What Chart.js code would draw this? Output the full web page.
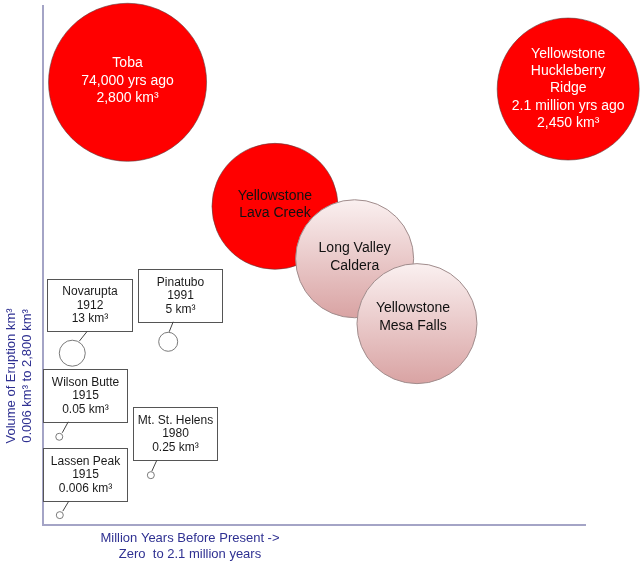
<!DOCTYPE html>
<html><head><meta charset="utf-8">
<script src="https://cdn.jsdelivr.net/npm/chart.js@4/dist/chart.umd.min.js"></script>
<style>html,body{margin:0;padding:0;background:#fff;} canvas{display:block;}</style>
</head><body>
<canvas id="c" width="640" height="569"></canvas>
<script>
// ---- data (arbitrary 0-100 plot units) ----
const volcanoNames = ['Toba','Yellowstone\nHuckleberry\nRidge','Yellowstone\nLava Creek','Long Valley\nCaldera','Yellowstone\nMesa Falls','Novarupta','Pinatubo','Wilson Butte','Mt. St. Helens','Lassen Peak'];
const whenLabels   = ['74,000 yrs ago','2.1 million yrs ago','','','','1912','1991','1915','1980','1915'];
const volumeLabels = ['2,800 km³','2,450 km³','','','','13 km³','5 km³','0.05 km³','0.25 km³','0.006 km³'];
const xValues      = [15.6, 96.9, 42.8, 57.5, 69.0, 5.4, 23.1, 3.0, 19.9, 3.1];
const yValues      = [85.3, 84.0, 61.4, 51.3, 38.8, 33.1, 35.3, 17.0, 9.6, 1.9];
const bubbleSizes  = [79, 71, 63, 59, 60, 13, 9.5, 3.5, 3.5, 3.5];
const bubbleKinds  = ['major','major','red','pink','pink','callout','callout','callout','callout','callout'];
const xAxisTitle = ['Million Years Before Present ->','Zero  to 2.1 million years'];
const yAxisTitle = ['Volume of Eruption km³','0.006 km³ to 2,800 km³'];

// ---- styling / layout ----
const FONT = '"Liberation Sans", Arial, sans-serif';
const AXIS_COLOR = '#a4a4c6';
const TITLE_COLOR = '#2f3192';
const labelNudge = { 'Yellowstone\nMesa Falls': [-4, -5], 'Yellowstone\nHuckleberry\nRidge': [0, 1] };
const calloutLayout = {
  'Novarupta':      {dx:-25, dy:-74, w:85, h:52, p0:[15,-22], p1:[7,-12]},
  'Pinatubo':       {dx:-30, dy:-73, w:84, h:53, p0:[5,-20],  p1:[1,-10]},
  'Wilson Butte':   {dx:-16, dy:-68, w:84, h:53, p0:[9,-15],  p1:[3,-4]},
  'Mt. St. Helens': {dx:-18, dy:-68, w:84, h:53, p0:[6,-15],  p1:[1,-4]},
  'Lassen Peak':    {dx:-17, dy:-67, w:84, h:53, p0:[9,-14],  p1:[3,-4]}
};

function fillFor(kind){
  if (kind === 'major' || kind === 'red') return '#ff0000';
  if (kind === 'callout') return '#ffffff';
  return function(c){
    const ch = c.chart;
    if (!ch.chartArea || !c.raw) return '#e8c8c8';
    const py = ch.scales.y.getPixelForValue(c.raw.y);
    const g = ch.ctx.createLinearGradient(0, py - c.raw.r, 0, py + c.raw.r);
    g.addColorStop(0, '#faf0f0');
    g.addColorStop(1, '#d9a3a3');
    return g;
  };
}
function borderFor(kind){
  if (kind === 'major' || kind === 'red') return 'rgba(90,60,60,0.75)';
  if (kind === 'pink') return '#a08c8c';
  return '#7a7a7a';
}

const datasets = volcanoNames.map((name, i) => ({
  label: name,
  data: [{x: xValues[i], y: yValues[i], r: bubbleSizes[i]}],
  backgroundColor: fillFor(bubbleKinds[i]),
  borderColor: borderFor(bubbleKinds[i]),
  borderWidth: bubbleKinds[i] === 'major' || bubbleKinds[i] === 'red' ? 0.8 : 1,
  hoverRadius: 0,
  clip: false,
  order: -i
}));

const labelPlugin = {
  id: 'volcanoLabels',
  afterDatasetDraw(chart, args) {
    const i = args.index;
    const kind = bubbleKinds[i];
    if (kind === 'callout') return;
    const el = args.meta.data[0];
    const lines = volcanoNames[i].split('\n');
    if (whenLabels[i]) lines.push(whenLabels[i]);
    if (volumeLabels[i]) lines.push(volumeLabels[i]);
    const nudge = labelNudge[volcanoNames[i]] || [0, 0];
    const ctx = chart.ctx;
    ctx.save();
    ctx.font = '14px ' + FONT;
    ctx.fillStyle = kind === 'major' ? '#ffffff' : '#111111';
    ctx.textAlign = 'center';
    ctx.textBaseline = 'middle';
    const lh = 17.4;
    const y0 = el.y - 1.5 + nudge[1] - (lines.length - 1) * lh / 2;
    lines.forEach((t, k) => ctx.fillText(t, el.x + nudge[0], y0 + k * lh));
    ctx.restore();
  },
  afterDatasetsDraw(chart) {
    const ctx = chart.ctx;
    const area = chart.chartArea;
    ctx.save();
    // callouts
    volcanoNames.forEach((name, i) => {
      if (bubbleKinds[i] !== 'callout') return;
      const L = calloutLayout[name];
      const el = chart.getDatasetMeta(i).data[0];
      const cx = el.x, cy = el.y;
      const bx = Math.round(cx + L.dx) + 0.5, by = Math.round(cy + L.dy) + 0.5;
      ctx.fillStyle = '#ffffff';
      ctx.strokeStyle = '#555555';
      ctx.lineWidth = 1;
      ctx.fillRect(bx, by, L.w, L.h);
      ctx.strokeRect(bx, by, L.w, L.h);
      ctx.beginPath();
      ctx.moveTo(cx + L.p0[0], cy + L.p0[1]);
      ctx.lineTo(cx + L.p1[0], cy + L.p1[1]);
      ctx.strokeStyle = '#444444';
      ctx.stroke();
      const lines = [name, whenLabels[i], volumeLabels[i]];
      ctx.font = '12px ' + FONT;
      ctx.fillStyle = '#1a1a1a';
      ctx.textAlign = 'center';
      ctx.textBaseline = 'middle';
      const mx = bx + L.w / 2, my = by + L.h / 2;
      lines.forEach((t, k) => ctx.fillText(t, mx, my + (k - 1) * 13.5));
    });
    // axis titles
    ctx.font = '13px ' + FONT;
    ctx.fillStyle = TITLE_COLOR;
    ctx.textAlign = 'center';
    ctx.textBaseline = 'middle';
    xAxisTitle.forEach((t, k) => ctx.fillText(t, area.left + 147, area.bottom + 13 + k * 16.5));
    ctx.translate(area.left - 32, area.bottom - 149);
    ctx.rotate(-Math.PI / 2);
    yAxisTitle.forEach((t, k) => ctx.fillText(t, 0, k * 16.5));
    ctx.restore();
  }
};

new Chart(document.getElementById('c'), {
  type: 'bubble',
  data: { datasets },
  options: {
    responsive: false,
    animation: false,
    events: [],
    layout: { autoPadding: false, padding: { left: 43, right: 55, top: 6, bottom: 44 } },
    plugins: { legend: { display: false }, tooltip: { enabled: false } },
    scales: {
      x: { type: 'linear', min: 0, max: 100,
           ticks: { display: false }, grid: { display: false, drawTicks: false },
           border: { display: true, color: AXIS_COLOR, width: 2 } },
      y: { type: 'linear', min: 0, max: 100,
           ticks: { display: false }, grid: { display: false, drawTicks: false },
           border: { display: true, color: AXIS_COLOR, width: 2 } }
    }
  },
  plugins: [labelPlugin]
});
</script>
</body></html>
